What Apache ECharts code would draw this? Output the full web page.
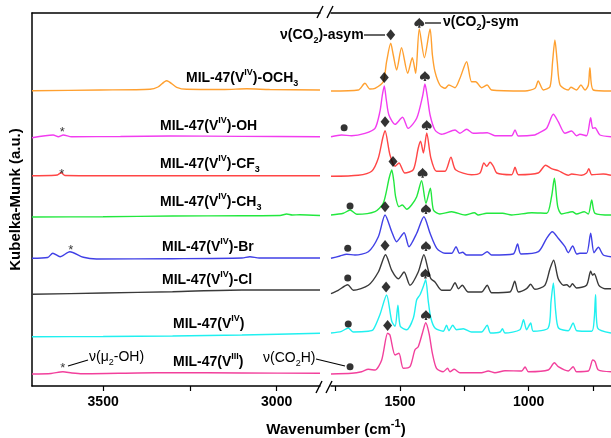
<!DOCTYPE html>
<html><head><meta charset="utf-8">
<script src="https://cdn.jsdelivr.net/npm/echarts@6/dist/echarts.min.js"></script>
<style>html,body{margin:0;padding:0;background:#fff}#c{width:611px;height:438px}</style>
</head><body><div id="c"></div>
<script>
// ---- axis ticks ----
const leftTicks = [3000, 3250, 3500];
const leftLabels = [3000, 3500];
const rightTicks = [750, 1000, 1250, 1500, 1750];
const rightLabels = [1000, 1500];

// ---- spectra (wavenumber, offset intensity) ----
const och3Hi = [[3705,295.3],[3509,296],[3365,296.7],[3342,299],[3317,305.3],[3288,298.7],[3259,296.7],[3150,296.5],[3086,297.2],[3020,296.5],[2875,296]];
const och3Lo = [[1768,295],[1662,296],[1636,302.7],[1617,297],[1597,297.7],[1565,304.3],[1552,324.3],[1536,342.7],[1526,331],[1513,316],[1494,338.3],[1470,312.7],[1452,328.3],[1439,312.7],[1425,357],[1405,328.3],[1383,357],[1374,331],[1364,314.3],[1345,301],[1325,297.7],[1310,301],[1286,298.3],[1267,307.7],[1241,324.3],[1222,304.3],[1206,304.3],[1183,298.3],[1161,301],[1144,296],[1014,295],[975,297.7],[963,305],[943,296],[917,299.3],[907,324.3],[898,346],[889,324.3],[878,301],[846,296],[836,298.7],[814,296],[797,301],[781,296],[768,301],[762,318.3],[749,296],[680,295]];

const ohHi = [[3705,248.3],[3644,251],[3629,249.3],[3615,251],[3591,249.3],[3450,249.5],[3307,250],[3100,249.6],[2875,249.3]];
const ohLo = [[1768,249.3],[1727,251],[1688,250.3],[1636,252.7],[1597,257.7],[1578,274.3],[1569,290],[1561,300],[1553,286],[1543,271],[1519,261.7],[1490,268.7],[1468,257.7],[1435,267.7],[1412,290],[1403,302],[1394,290],[1383,271],[1364,256],[1338,251.7],[1286,256],[1267,252.7],[1241,256.7],[1215,252.7],[1161,253.3],[1131,250.3],[1066,250.3],[1053,256],[1040,250],[976,251],[963,252.7],[930,257.7],[904,271.7],[885,264.3],[859,252.7],[833,255],[814,250.3],[801,251.7],[775,250.3],[759,268.3],[751,257.7],[742,258.3],[723,251],[680,249.3]];

const cf3Hi = [[3705,210.3],[3650,210.5],[3632,211],[3621,213.3],[3610,210.5],[3500,210.3],[3200,210.3],[2875,210.3]];
const cf3Lo = [[1768,209.7],[1662,210.7],[1610,214.7],[1584,228],[1567,248],[1558,255.3],[1539,231.3],[1519,219.7],[1504,223],[1481,213],[1448,216.3],[1429,238],[1420,244.7],[1409,233],[1396,253],[1380,228],[1358,214.7],[1325,214.7],[1302,228.7],[1284,216.3],[1222,211.3],[1189,213],[1174,223],[1163,219.7],[1150,223.7],[1137,219.7],[1124,213],[1066,211.3],[1053,218.7],[1040,211.3],[963,213],[934,220.7],[911,217.3],[885,215.3],[846,210.7],[833,212],[794,210.7],[775,213],[766,217.3],[755,211.3],[710,212],[680,210.7]];

const ch3Hi = [[3705,169],[3500,169.3],[3300,170],[3100,170.3],[2990,170.5],[2971,172],[2955,171],[2933,171.2],[2875,170.5]];
const ch3Lo = [[1768,171],[1720,172.7],[1694,176],[1668,171.7],[1597,174.3],[1565,182.7],[1542,208],[1532,216],[1524,205],[1517,189.3],[1504,179.3],[1491,181],[1474,176.7],[1455,181],[1435,189.3],[1416,205.3],[1399,182.7],[1382,197.7],[1370,176],[1345,172],[1299,174.3],[1247,171],[1211,173.3],[1196,171],[1163,172.7],[1101,172.7],[1066,171],[988,173.3],[930,172.7],[911,189.3],[900,207.7],[887,179.3],[872,172],[830,174.3],[814,172],[784,174.3],[768,172],[755,186],[742,172.7],[680,171]];

const brHi = [[3705,127.7],[3660,128.5],[3645,132.7],[3624,129.3],[3596,134.3],[3557,128.7],[3519,127],[3300,127.3],[3100,128],[3077,129.3],[3050,128],[2875,128]];
const brLo = [[1768,127.7],[1733,130],[1707,131.7],[1675,131],[1623,134.3],[1584,149.3],[1558,171],[1532,154.3],[1513,144.3],[1484,153.3],[1465,139.3],[1435,152.7],[1407,169.3],[1383,152.7],[1357,137.7],[1325,132.7],[1299,132.7],[1282,139.3],[1269,132.7],[1257,133.7],[1241,131],[1183,131],[1161,134.3],[1144,131],[1060,132],[1043,142],[1030,132],[962,134.3],[930,147.7],[908,154.3],[885,147.7],[859,139.3],[846,133.3],[829,140],[813,132],[801,132.7],[775,132.7],[759,152.7],[746,133.3],[729,138.7],[710,131],[680,129.3]];

const clHi = [[3705,91.7],[3500,93],[3300,94.3],[3100,96],[2875,96]];
const clLo = [[1768,92.3],[1740,95.7],[1703,101.3],[1681,95.7],[1623,100.7],[1584,114],[1556,131.3],[1532,115.7],[1506,107.3],[1484,114],[1461,100.7],[1429,114],[1407,131.3],[1390,115.7],[1380,107.3],[1364,104],[1338,95.7],[1306,95.7],[1286,103.3],[1273,97.3],[1258,100.7],[1235,94],[1183,94],[1161,100.7],[1144,93.3],[1073,94],[1054,104.7],[1040,94],[1008,97.3],[992,101.7],[976,96.7],[937,100.7],[917,117.3],[903,125.7],[885,107.3],[865,100.7],[852,101.3],[840,99],[830,102.3],[814,98],[775,100.7],[759,114.7],[751,110.7],[745,112.3],[727,100.7],[704,97.3],[680,97.3]];

const v4Hi = [[3705,49.3],[3500,49.5],[3300,50],[3100,51],[2875,52.7]];
const v4Lo = [[1768,53],[1727,54.7],[1701,58],[1681,54],[1623,54.7],[1604,56.3],[1578,71.3],[1552,91],[1532,64.7],[1519,59.7],[1508,80.7],[1499,59.7],[1474,56.3],[1448,68],[1435,86.3],[1422,91.3],[1409,99.7],[1400,106.3],[1390,84.7],[1380,68],[1364,58],[1332,54.7],[1319,60.7],[1310,55.3],[1295,60.7],[1280,56.3],[1254,57.3],[1222,54],[1183,54],[1161,60.7],[1148,53],[1111,54],[1102,57.3],[1092,53],[1034,56.3],[1020,66.3],[1008,56.3],[992,63],[982,54.7],[924,58],[913,84.7],[904,103],[895,74.7],[884,58],[846,55.3],[827,63],[813,55.3],[755,54.7],[745,68],[740,91.3],[732,58],[680,53]];

const v3Hi = [[3705,12],[3650,12.5],[3616,14.3],[3590,13],[3560,12.2],[3400,13],[3300,13.3],[3100,13],[2875,12.7]];
const v3Lo = [[1768,12],[1688,12.7],[1649,14.3],[1623,16.7],[1597,16],[1571,26],[1548,52.7],[1539,51],[1519,31],[1504,32.7],[1487,17.7],[1461,19.3],[1442,36],[1429,39.3],[1413,52.7],[1400,63.3],[1387,52.7],[1374,32.7],[1358,17.7],[1332,14.3],[1315,17.7],[1306,14.3],[1289,16.7],[1267,13.3],[1183,13.3],[1157,15],[1131,13.3],[1092,15.3],[1027,15],[1014,19],[1001,14.3],[924,16],[900,23.3],[885,19.3],[846,15],[827,19.3],[814,14.3],[768,15],[751,26],[742,24.3],[729,16],[680,14.3]];

// ---- peak markers ----
const diamonds = [[1536,351.3],[1561,308.5],[1558,264.3],[1527,224.5],[1558,179.3],[1558,140.5],[1554,99],[1548,60.5]];
const spades = [[1425,363.3],[1403,310],[1396,261],[1412,213.2],[1399,177],[1399,140],[1401,112.5],[1399,71]];
const dots = [[1717,258.3],[1694,180],[1703,137.7],[1703,108],[1701,62],[1694,19.3]];
const stars = [[3618,256.7],[3619,214.3],[3593,138.3],[3616,20.3]];

const labels = [
  '{b|MIL-47(V}{sup|IV}{b|)-OCH}{sub|3}',
  '{b|MIL-47(V}{sup|IV}{b|)-OH}',
  '{b|MIL-47(V}{sup|IV}{b|)-CF}{sub|3}',
  '{b|MIL-47(V}{sup|IV}{b|)-CH}{sub|3}',
  '{b|MIL-47(V}{sup|IV}{b|)-Br}',
  '{b|MIL-47(V}{sup|IV}{b|)-Cl}',
  '{b|MIL-47(V}{sup|IV}{b|)}',
  '{b|MIL-47(V}{sup|III}{b|)}'
];
const colors = ['#FFA030','#F23CF0','#FF4646','#22E83E','#4040E6','#3A3A3A','#20F0F0','#F2409C'];
const hiSets = [och3Hi, ohHi, cf3Hi, ch3Hi, brHi, clHi, v4Hi, v3Hi];
const loSets = [och3Lo, ohLo, cf3Lo, ch3Lo, brLo, clLo, v4Lo, v3Lo];

// ---- layout (pixels) ----
const labelPos = [[186,78],[160,126],[160,164],[160,202],[162,247],[162,280],[173,324],[173,362]];

const FF = '"Liberation Sans", Arial, sans-serif';
const rich = {
  b: {fontSize: 14, fontWeight: 'bold', lineHeight: 20, fontFamily: FF, fill: '#000', color: '#000'},
  sup: {fontSize: 9, fontWeight: 'bold', lineHeight: 9, verticalAlign: 'top', fontFamily: FF, fill: '#000', color: '#000'},
  sub: {fontSize: 9, fontWeight: 'bold', lineHeight: 9, verticalAlign: 'bottom', fontFamily: FF, fill: '#000', color: '#000'},
  n: {fontSize: 14, lineHeight: 20, fontFamily: FF, fill: '#000', color: '#000'},
  nsub: {fontSize: 9, lineHeight: 9, verticalAlign: 'bottom', fontFamily: FF, fill: '#000', color: '#000'},
  xb: {fontSize: 15, fontWeight: 'bold', lineHeight: 24, fontFamily: FF, fill: '#000', color: '#000'},
  xsup: {fontSize: 11, fontWeight: 'bold', lineHeight: 11, verticalAlign: 'top', fontFamily: FF, fill: '#000', color: '#000'}
};

function txt(x, y, text, align) {
  return {type: 'text', x: x, y: y, silent: true,
    style: {text: text, rich: rich, align: align || 'left', verticalAlign: 'middle', fill: '#000'}};
}
function seg(x1, y1, x2, y2, w) {
  return {type: 'line', silent: true, shape: {x1, y1, x2, y2}, style: {stroke: '#000', lineWidth: w || 1.2}};
}

const graphic = [];
labels.forEach((l, i) => graphic.push(txt(labelPos[i][0], labelPos[i][1], l)));
graphic.push(txt(280, 35, '{b|ν(CO}{sub|2}{b|)-asym}'));
graphic.push(seg(364, 35, 385, 35));
graphic.push(txt(443, 22, '{b|ν(CO}{sub|2}{b|)-sym}'));
graphic.push(seg(425, 23, 441, 23));
graphic.push(txt(89, 357, '{n|ν(μ}{nsub|2}{n|-OH)}'));
graphic.push(seg(68, 366, 88, 360));
graphic.push(txt(263, 358, '{n|ν(CO}{nsub|2}{n|H)}'));
graphic.push(seg(316, 359, 345, 366));
graphic.push(txt(336, 430, '{xb|Wavenumber (cm}{xsup|-1}{xb|)}', 'center'));
// axis breaks
graphic.push(seg(317, 18, 323, 6, 1.4), seg(327, 18, 333, 6, 1.4));
graphic.push(seg(316, 393, 322, 381, 1.4), seg(326, 393, 332, 381, 1.4));

const axisLineStyle = {color: '#000', width: 1.5};
function bottomAxis(idx, min, max, ticks, labs) {
  return {type: 'value', gridIndex: idx, inverse: true, min: min, max: max, position: 'bottom',
    axisLine: {show: true, onZero: false, lineStyle: axisLineStyle},
    axisTick: {show: true, length: 5, inside: false, customValues: ticks, lineStyle: {color: '#000', width: 1.2}},
    axisLabel: {show: true, customValues: labs, margin: 9, fontSize: 14, fontWeight: 'bold', color: '#000', fontFamily: FF,
      formatter: v => String(v)},
    splitLine: {show: false}};
}
function topAxis(idx, min, max) {
  return {type: 'value', gridIndex: idx, inverse: true, min: min, max: max, position: 'top',
    axisLine: {show: true, onZero: false, lineStyle: axisLineStyle},
    axisTick: {show: false}, axisLabel: {show: false}, splitLine: {show: false}};
}

const series = [];
hiSets.forEach((d, i) => series.push({type: 'line', xAxisIndex: 0, yAxisIndex: 0, data: d, showSymbol: false,
  smooth: 0.25, lineStyle: {color: colors[i], width: 1.4}, silent: true, z: 2}));
loSets.forEach((d, i) => series.push({type: 'line', xAxisIndex: 1, yAxisIndex: 1, data: d, showSymbol: false,
  smooth: 0.25, lineStyle: {color: colors[i], width: 1.4}, silent: true, z: 2}));

const spadePath = 'path://M50,0 C40,18 0,38 0,64 C0,84 24,92 44,76 L36,100 L64,100 L56,76 C76,92 100,84 100,64 C100,38 60,18 50,0 Z';
series.push({type: 'scatter', xAxisIndex: 1, yAxisIndex: 1, data: diamonds, symbol: 'diamond', symbolSize: [9, 11],
  itemStyle: {color: '#000'}, silent: true, z: 5});
series.push({type: 'scatter', xAxisIndex: 1, yAxisIndex: 1, data: spades, symbol: spadePath, symbolSize: [10, 10],
  itemStyle: {color: '#000'}, silent: true, z: 5});
series.push({type: 'scatter', xAxisIndex: 1, yAxisIndex: 1, data: dots, symbol: 'circle', symbolSize: 7,
  itemStyle: {color: '#000'}, silent: true, z: 5});
series.push({type: 'scatter', xAxisIndex: 0, yAxisIndex: 0, data: stars, symbol: 'circle', symbolSize: 1,
  itemStyle: {color: 'rgba(0,0,0,0)'}, silent: true, z: 5,
  label: {show: true, position: 'inside', formatter: '*', fontSize: 13, color: '#000', fontFamily: FF, offset: [0, 3]}});

const chart = echarts.init(document.getElementById('c'), null, {renderer: 'canvas'});
chart.setOption({
  animation: false,
  backgroundColor: '#fff',
  grid: [
    {left: 32, top: 13, width: 288, height: 373},
    {left: 331, top: 13, width: 280, height: 373}
  ],
  xAxis: [
    bottomAxis(0, 2875, 3705, leftTicks, leftLabels),
    bottomAxis(1, 680, 1768, rightTicks, rightLabels),
    topAxis(0, 2875, 3705),
    topAxis(1, 680, 1768)
  ],
  yAxis: [
    {type: 'value', gridIndex: 0, min: 0, max: 373, position: 'left',
     name: 'Kubelka-Munk (a.u.)', nameLocation: 'middle', nameGap: 9, nameRotate: 90,
     nameTextStyle: {fontSize: 15, fontWeight: 'bold', color: '#000', fontFamily: FF},
     axisLine: {show: true, onZero: false, lineStyle: axisLineStyle}, axisTick: {show: false},
     axisLabel: {show: false}, splitLine: {show: false}},
    {type: 'value', gridIndex: 1, min: 0, max: 373, show: false, splitLine: {show: false}}
  ],
  series: series,
  graphic: graphic
});
</script>
</body></html>
